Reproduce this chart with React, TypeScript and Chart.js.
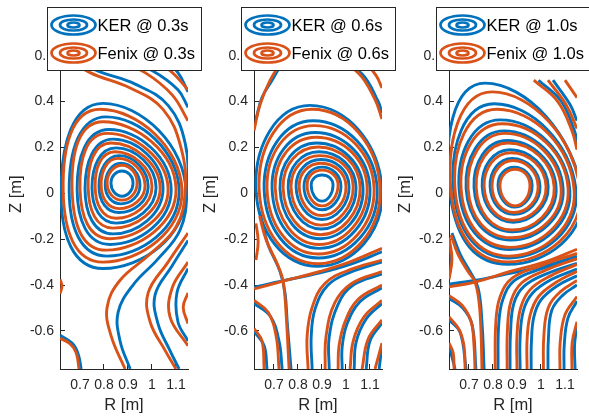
import React, { useEffect, useRef } from 'react';
import { Chart, registerables } from 'chart.js';

Chart.register(...registerables);

const FONT = '"Liberation Sans", Arial, Helvetica, sans-serif';
const KER_COLOR = '#0072BD';
const FENIX_COLOR = '#D95319';
const AXIS_COLOR = '#262626';

const seriesNames = ['KER', 'Fenix'];
const times = ['0.3s', '0.6s', '1.0s'];
const rTicks = [0.7, 0.8, 0.9, 1.0, 1.1];
const zTicks = [-0.6, -0.4, -0.2, 0, 0.2, 0.4, 0.6];
const rRange = [0.6167, 1.15];
const zRange = [-0.766, 0.758];

// Closed flux surfaces: [R_right, Z_right, R_top, Z_top, R_left, Z_left, R_bottom, Z_bottom]
// Open field lines: [R1, Z1, R2, Z2, ...]

// ---------- t = 0.3 s ----------
const fenixClosed03 = [
  [1.125, 0.01, 0.784, 0.366, 0.630, 0.01, 0.796, -0.300],
  [1.100, 0.02, 0.796, 0.312, 0.667, 0.02, 0.809, -0.248],
  [1.067, 0.02, 0.813, 0.261, 0.700, 0.02, 0.825, -0.198],
  [1.034, 0.025, 0.830, 0.219, 0.734, 0.025, 0.838, -0.152],
  [1.000, 0.03, 0.846, 0.181, 0.763, 0.03, 0.850, -0.109],
  [0.971, 0.035, 0.859, 0.152, 0.788, 0.035, 0.863, -0.067],
  [0.938, 0.045, 0.875, 0.122, 0.813, 0.045, 0.875, -0.030],
];
const kerClosed03 = [
  [1.142, 0.0, 0.796, 0.392, 0.621, 0.0, 0.796, -0.328],
  [1.113, 0.01, 0.809, 0.333, 0.655, 0.01, 0.813, -0.274],
  [1.080, 0.015, 0.821, 0.278, 0.688, 0.015, 0.825, -0.223],
  [1.046, 0.02, 0.838, 0.236, 0.721, 0.02, 0.838, -0.177],
  [1.017, 0.025, 0.850, 0.198, 0.750, 0.025, 0.850, -0.130],
  [0.984, 0.03, 0.863, 0.164, 0.779, 0.03, 0.863, -0.084],
  [0.950, 0.035, 0.871, 0.131, 0.805, 0.035, 0.871, -0.046],
  [0.921, 0.045, 0.875, 0.097, 0.829, 0.045, 0.875, -0.013],
];
const fenixOpen03 = [
  [0.638, 0.598, 0.742, 0.526, 0.909, 0.459, 1.046, 0.366, 1.121, 0.198, 1.138, 0.008, 1.100, -0.147, 0.992, -0.265, 0.867, -0.379, 0.813, -0.497, 0.830, -0.623, 0.888, -0.766],
  [0.825, 0.598, 0.971, 0.526, 1.084, 0.429, 1.15, 0.316],
  [1.15, -0.173, 1.067, -0.300, 0.984, -0.434, 0.992, -0.560, 1.055, -0.686, 1.100, -0.766],
  [0.971, 0.598, 1.075, 0.535, 1.15, 0.451],
  [1.15, -0.300, 1.084, -0.413, 1.075, -0.539, 1.15, -0.665],
  [1.096, 0.598, 1.15, 0.543],
  [1.15, -0.434, 1.130, -0.497, 1.15, -0.568],
  [0.617, -0.632, 0.659, -0.657, 0.684, -0.695, 0.696, -0.766],
  [0.617, -0.375, 0.625, -0.404, 0.617, -0.438],
];
const kerOpen03 = [
  [0.659, 0.598, 0.771, 0.535, 0.930, 0.476, 1.067, 0.383, 1.138, 0.219, 1.146, 0.008, 1.117, -0.160, 1.025, -0.286, 0.921, -0.400, 0.859, -0.518, 0.867, -0.644, 0.909, -0.766],
  [0.859, 0.598, 1.0, 0.535, 1.108, 0.451, 1.15, 0.375],
  [1.15, -0.206, 1.084, -0.316, 1.013, -0.442, 1.025, -0.568, 1.075, -0.686, 1.113, -0.766],
  [1.034, 0.598, 1.108, 0.526, 1.15, 0.442],
  [1.15, -0.328, 1.104, -0.434, 1.108, -0.560, 1.15, -0.644],
  [0.617, -0.619, 0.667, -0.653, 0.692, -0.699, 0.705, -0.766],
];

// ---------- t = 0.6 s ----------
const fenixClosed06 = [
  [1.142, 0.02, 0.859, 0.366, 0.638, 0.02, 0.884, -0.307],
  [1.117, 0.02, 0.867, 0.295, 0.671, 0.02, 0.884, -0.265],
  [1.088, 0.025, 0.875, 0.244, 0.705, 0.025, 0.888, -0.223],
  [1.059, 0.025, 0.884, 0.202, 0.738, 0.025, 0.892, -0.181],
  [1.030, 0.03, 0.892, 0.164, 0.771, 0.03, 0.896, -0.139],
  [1.000, 0.03, 0.896, 0.131, 0.805, 0.03, 0.900, -0.097],
  [0.967, 0.035, 0.900, 0.101, 0.838, 0.035, 0.900, -0.055],
];
const kerClosed06 = [
  [1.150, 0.015, 0.850, 0.383, 0.625, 0.015, 0.884, -0.318],
  [1.130, 0.015, 0.863, 0.316, 0.659, 0.015, 0.884, -0.282],
  [1.100, 0.02, 0.871, 0.265, 0.692, 0.02, 0.888, -0.240],
  [1.071, 0.02, 0.879, 0.219, 0.725, 0.02, 0.892, -0.198],
  [1.042, 0.025, 0.888, 0.181, 0.759, 0.025, 0.896, -0.156],
  [1.013, 0.03, 0.896, 0.147, 0.792, 0.03, 0.900, -0.114],
  [0.979, 0.03, 0.900, 0.114, 0.825, 0.03, 0.900, -0.072],
  [0.946, 0.035, 0.900, 0.080, 0.855, 0.035, 0.900, -0.034],
];
const fenixOpen06 = [
  [0.617, -0.417, 0.738, -0.383, 0.892, -0.341, 1.017, -0.299, 1.150, -0.240],
  [0.640, -0.100, 0.667, -0.202, 0.717, -0.316, 0.738, -0.383, 0.750, -0.518, 0.763, -0.766],
  [0.617, 0.274, 0.642, 0.387, 0.684, 0.493, 0.738, 0.585],
  [0.625, -0.131, 0.634, -0.211, 0.625, -0.291],
  [0.617, -0.467, 0.675, -0.518, 0.709, -0.623, 0.721, -0.766],
  [0.617, -0.589, 0.650, -0.644, 0.659, -0.766],
  [1.15, -0.291, 1.017, -0.333, 0.913, -0.392, 0.859, -0.497, 0.838, -0.623, 0.842, -0.766],
  [1.15, -0.341, 1.025, -0.392, 0.954, -0.476, 0.917, -0.623, 0.913, -0.766],
  [1.15, -0.400, 1.050, -0.463, 0.996, -0.560, 0.971, -0.665, 0.967, -0.766],
  [1.15, -0.467, 1.075, -0.539, 1.030, -0.644, 1.017, -0.766],
  [1.15, -0.552, 1.092, -0.636, 1.067, -0.766],
  [1.15, -0.653, 1.121, -0.766],
  [0.934, 0.598, 1.050, 0.526, 1.121, 0.408, 1.150, 0.324],
  [1.059, 0.598, 1.125, 0.514, 1.150, 0.459],
];
const kerOpen06 = [
  [0.617, -0.410, 0.738, -0.381, 0.892, -0.347, 1.017, -0.310, 1.150, -0.255],
  [0.640, -0.080, 0.675, -0.223, 0.725, -0.341, 0.746, -0.434, 0.755, -0.560, 0.771, -0.766],
  [0.625, 0.324, 0.650, 0.417, 0.692, 0.493, 0.740, 0.580],
  [0.617, -0.480, 0.684, -0.535, 0.721, -0.644, 0.734, -0.766],
  [0.617, -0.602, 0.659, -0.665, 0.671, -0.766],
  [1.15, -0.300, 1.017, -0.345, 0.925, -0.400, 0.871, -0.505, 0.855, -0.627, 0.859, -0.766],
  [1.15, -0.352, 1.030, -0.400, 0.967, -0.484, 0.930, -0.627, 0.930, -0.766],
  [1.15, -0.412, 1.059, -0.472, 1.005, -0.568, 0.984, -0.670, 0.984, -0.766],
  [1.15, -0.480, 1.084, -0.548, 1.042, -0.650, 1.034, -0.766],
  [1.15, -0.565, 1.100, -0.644, 1.084, -0.766],
  [1.15, -0.665, 1.138, -0.766],
  [0.954, 0.598, 1.067, 0.520, 1.134, 0.400, 1.150, 0.350],
];

// ---------- t = 1.0 s ----------
const fenixClosed10 = [
  [1.163, 0.01, 0.796, 0.442, 0.625, 0.01, 0.863, -0.299],
  [1.138, 0.015, 0.817, 0.366, 0.642, 0.015, 0.867, -0.274],
  [1.113, 0.02, 0.838, 0.303, 0.667, 0.02, 0.871, -0.236],
  [1.084, 0.02, 0.850, 0.261, 0.696, 0.02, 0.875, -0.194],
  [1.055, 0.025, 0.863, 0.219, 0.730, 0.025, 0.880, -0.160],
  [1.021, 0.03, 0.875, 0.177, 0.763, 0.03, 0.884, -0.118],
  [0.988, 0.03, 0.884, 0.143, 0.796, 0.03, 0.888, -0.084],
  [0.954, 0.035, 0.892, 0.105, 0.829, 0.035, 0.892, -0.055],
];
const kerClosed10 = [
  [1.170, 0.0, 0.767, 0.480, 0.621, 0.0, 0.863, -0.310],
  [1.146, 0.01, 0.805, 0.390, 0.636, 0.01, 0.867, -0.282],
  [1.120, 0.015, 0.830, 0.320, 0.659, 0.015, 0.871, -0.245],
  [1.092, 0.02, 0.846, 0.272, 0.688, 0.02, 0.875, -0.204],
  [1.063, 0.025, 0.859, 0.230, 0.721, 0.025, 0.880, -0.168],
  [1.030, 0.03, 0.871, 0.190, 0.755, 0.03, 0.884, -0.126],
  [0.996, 0.03, 0.880, 0.152, 0.788, 0.03, 0.888, -0.092],
  [0.963, 0.035, 0.888, 0.114, 0.821, 0.035, 0.892, -0.060],
];
const fenixOpen10 = [
  [0.617, -0.408, 0.725, -0.387, 0.871, -0.341, 1.017, -0.299, 1.150, -0.244],
  [0.625, -0.181, 0.654, -0.265, 0.696, -0.341, 0.725, -0.387, 0.742, -0.476, 0.750, -0.602, 0.754, -0.766],
  [0.617, -0.446, 0.671, -0.488, 0.709, -0.560, 0.721, -0.665, 0.725, -0.766],
  [0.617, -0.539, 0.659, -0.594, 0.679, -0.665, 0.684, -0.766],
  [0.617, -0.653, 0.634, -0.695, 0.638, -0.766],
  [0.617, -0.194, 0.629, -0.286, 0.617, -0.375],
  [1.15, -0.262, 1.0, -0.315, 0.88, -0.370, 0.83, -0.450, 0.812, -0.560, 0.809, -0.766],
  [1.15, -0.285, 1.02, -0.335, 0.92, -0.390, 0.875, -0.470, 0.86, -0.600, 0.859, -0.766],
  [1.15, -0.310, 1.04, -0.360, 0.955, -0.420, 0.915, -0.500, 0.90, -0.620, 0.900, -0.766],
  [1.15, -0.340, 1.06, -0.390, 0.99, -0.450, 0.955, -0.530, 0.942, -0.640, 0.942, -0.766],
  [1.15, -0.380, 1.08, -0.430, 1.03, -0.500, 1.012, -0.620, 1.010, -0.766],
  [1.15, -0.450, 1.10, -0.530, 1.08, -0.650, 1.079, -0.766],
  [1.15, -0.560, 1.13, -0.650, 1.129, -0.766],
  [0.970, 0.493, 1.070, 0.400, 1.130, 0.270, 1.150, 0.190],
  [1.029, 0.493, 1.104, 0.387, 1.150, 0.282],
  [1.100, 0.493, 1.150, 0.417],
];
const kerOpen10 = [
  [0.617, -0.396, 0.729, -0.379, 0.871, -0.349, 1.017, -0.316, 1.150, -0.274],
  [0.629, -0.173, 0.663, -0.265, 0.704, -0.341, 0.738, -0.413, 0.754, -0.560, 0.763, -0.766],
  [0.617, -0.459, 0.675, -0.501, 0.713, -0.573, 0.729, -0.766],
  [0.617, -0.552, 0.663, -0.606, 0.688, -0.766],
  [0.617, -0.665, 0.642, -0.766],
  [0.617, -0.206, 0.625, -0.291, 0.617, -0.366],
  [1.15, -0.285, 1.0, -0.330, 0.89, -0.380, 0.842, -0.460, 0.824, -0.570, 0.821, -0.766],
  [1.15, -0.305, 1.025, -0.350, 0.93, -0.405, 0.887, -0.480, 0.873, -0.610, 0.871, -0.766],
  [1.15, -0.330, 1.045, -0.375, 0.965, -0.435, 0.927, -0.510, 0.913, -0.630, 0.913, -0.766],
  [1.15, -0.360, 1.065, -0.405, 1.0, -0.465, 0.97, -0.540, 0.96, -0.650, 0.959, -0.766],
  [1.15, -0.400, 1.09, -0.445, 1.045, -0.510, 1.031, -0.630, 1.029, -0.766],
  [1.15, -0.470, 1.112, -0.545, 1.097, -0.660, 1.096, -0.766],
  [1.15, -0.580, 1.14, -0.660, 1.142, -0.766],
  [0.990, 0.493, 1.085, 0.400, 1.140, 0.270, 1.150, 0.220],
  [1.050, 0.493, 1.121, 0.387, 1.150, 0.316],
];

const panels = [
  { time: times[0], fenixClosed: fenixClosed03, fenixOpen: fenixOpen03, kerClosed: kerClosed03, kerOpen: kerOpen03 },
  { time: times[1], fenixClosed: fenixClosed06, fenixOpen: fenixOpen06, kerClosed: kerClosed06, kerOpen: kerOpen06 },
  { time: times[2], fenixClosed: fenixClosed10, fenixOpen: fenixOpen10, kerClosed: kerClosed10, kerOpen: kerOpen10 },
];

const PANEL_LEFT = [0, 194, 389];
const CANVAS_W = 212;
const CANVAS_H = 417;

function toPoints(flat: number[]) {
  const pts: { x: number; y: number }[] = [];
  for (let i = 0; i < flat.length; i += 2) pts.push({ x: flat[i], y: flat[i + 1] });
  return pts;
}

function makeDatasets(closed: number[][], open: number[][], color: string) {
  const base = {
    borderColor: color,
    borderWidth: 2.9,
    pointRadius: 0,
    pointHoverRadius: 0,
    fill: false,
    spanGaps: true,
    capBezierPoints: false,
    clip: 0,
    borderCapStyle: 'butt',
    borderJoinStyle: 'round',
  };
  return [
    ...closed.map((c) => ({ ...base, data: toPoints(c), closed: true, tension: 0.55 })),
    ...open.map((c) => ({ ...base, data: toPoints(c), closed: false, tension: 0.4 })),
  ];
}

const loopPlugin = {
  id: 'closedContours',
  beforeDatasetsDraw(chart: any) {
    chart.data.datasets.forEach((ds: any, i: number) => {
      if (!ds.closed) return;
      const line: any = chart.getDatasetMeta(i).dataset;
      if (!line) return;
      line._loop = true;
      line._fullLoop = true;
      delete line._segments;
      delete line._path;
      line._pointsUpdated = false;
    });
  },
};

const legendPlugin = {
  id: 'contourLegend',
  afterDraw(chart: any) {
    const opts = chart.options.plugins.contourLegend;
    const { ctx, chartArea } = chart;
    const w = 154;
    const h = 63;
    const cx = (chartArea.left + chartArea.right) / 2;
    const x0 = Math.round(cx - w / 2) + 0.5;
    const y0 = 7.5;
    ctx.save();
    ctx.fillStyle = '#ffffff';
    ctx.fillRect(x0, y0, w, h);
    ctx.strokeStyle = AXIS_COLOR;
    ctx.lineWidth = 1;
    ctx.strokeRect(x0, y0, w, h);
    opts.rows.forEach((row: any, i: number) => {
      const cy = y0 + 17.5 + i * 28;
      ctx.strokeStyle = row.color;
      ctx.lineWidth = 2.7;
      [[22, 9.5], [13.5, 5.5], [6, 2.5]].forEach(([rx, ry]) => {
        ctx.beginPath();
        ctx.ellipse(x0 + 26, cy, rx, ry, 0, 0, Math.PI * 2);
        ctx.stroke();
      });
      ctx.fillStyle = '#000000';
      ctx.font = `16.5px ${FONT}`;
      ctx.textBaseline = 'middle';
      ctx.textAlign = 'left';
      ctx.fillText(row.label, x0 + 50, cy + 1);
    });
    ctx.restore();
  },
};

const fmt = (v: any) => String(Math.round(Number(v) * 10) / 10);

function Panel({ index }: { index: number }) {
  const ref = useRef<HTMLCanvasElement | null>(null);
  useEffect(() => {
    const p = panels[index];
    const datasets = [
      ...makeDatasets(p.fenixClosed, p.fenixOpen, FENIX_COLOR),
      ...makeDatasets(p.kerClosed, p.kerOpen, KER_COLOR),
    ];
    const chart = new Chart(ref.current as HTMLCanvasElement, {
      type: 'line',
      data: { datasets: datasets as any },
      plugins: [loopPlugin, legendPlugin],
      options: {
        animation: false,
        responsive: false,
        devicePixelRatio: 1,
        events: [],
        layout: { padding: { left: 0, right: CANVAS_W - 188, top: 7, bottom: 0 } },
        plugins: {
          legend: { display: false },
          tooltip: { enabled: false },
          contourLegend: {
            rows: [
              { label: `${seriesNames[0]} @ ${p.time}`, color: KER_COLOR },
              { label: `${seriesNames[1]} @ ${p.time}`, color: FENIX_COLOR },
            ],
          },
        } as any,
        scales: {
          x: {
            type: 'linear',
            min: rRange[0],
            max: rRange[1],
            afterBuildTicks: (s: any) => { s.ticks = rTicks.map((v) => ({ value: v })); },
            afterFit: (s: any) => { s.height = 48; },
            ticks: { color: AXIS_COLOR, font: { family: FONT, size: 14 }, padding: 13, maxRotation: 0, minRotation: 0, autoSkip: false, callback: fmt },
            grid: { drawOnChartArea: false, drawTicks: true, tickLength: -5, color: AXIS_COLOR, lineWidth: 1 },
            border: { display: true, color: AXIS_COLOR, width: 1 },
            title: { display: true, text: 'R [m]', color: AXIS_COLOR, font: { family: FONT, size: 16.5 }, padding: { top: 0, bottom: 2 } },
          },
          y: {
            type: 'linear',
            min: zRange[0],
            max: zRange[1],
            afterBuildTicks: (s: any) => { s.ticks = zTicks.map((v) => ({ value: v })); },
            afterFit: (s: any) => { s.width = 60; },
            ticks: { color: AXIS_COLOR, font: { family: FONT, size: 14 }, padding: 11, autoSkip: false, callback: fmt },
            grid: { drawOnChartArea: false, drawTicks: true, tickLength: -5, color: AXIS_COLOR, lineWidth: 1 },
            border: { display: true, color: AXIS_COLOR, width: 1 },
            title: { display: true, text: 'Z [m]', color: AXIS_COLOR, font: { family: FONT, size: 16.5 }, padding: { top: 7, bottom: 0 } },
          },
        },
      } as any,
    });
    return () => chart.destroy();
  }, [index]);
  return (
    <canvas
      ref={ref}
      width={CANVAS_W}
      height={CANVAS_H}
      style={{ position: 'absolute', left: PANEL_LEFT[index], top: 0, width: CANVAS_W, height: CANVAS_H }}
    />
  );
}

export default function App() {
  return (
    <div style={{ position: 'absolute', left: 0, top: 0, width: 589, height: 417, overflow: 'hidden', background: '#ffffff' }}>
      {panels.map((_, i) => (
        <Panel key={i} index={i} />
      ))}
    </div>
  );
}
